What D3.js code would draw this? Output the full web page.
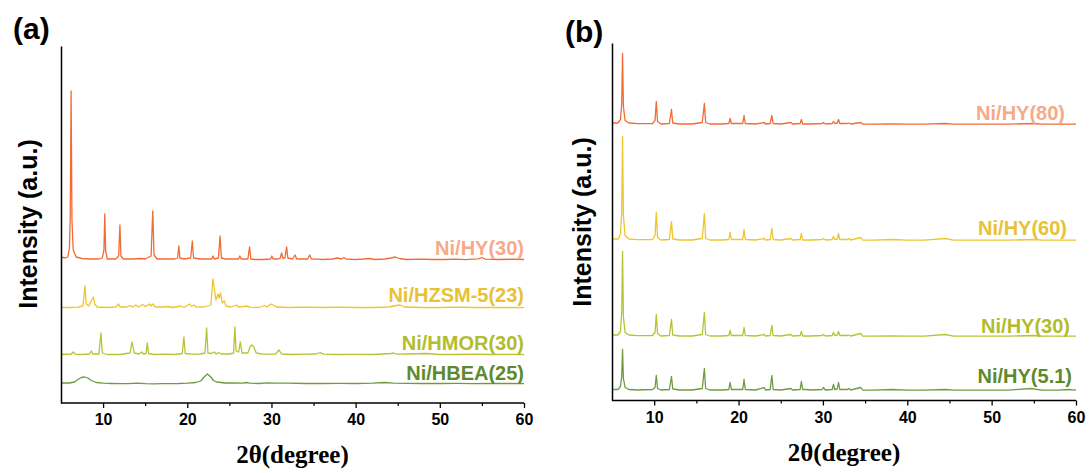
<!DOCTYPE html>
<html><head><meta charset="utf-8">
<script src="https://cdn.jsdelivr.net/npm/d3@7"></script>
<style>
body{margin:0;background:#fff}
text{font-family:"Liberation Sans",Arial,sans-serif}
</style>
</head><body>
<svg id="c" width="1091" height="473"></svg>
<script>
// ---------- data ----------
const majorTicks = [10, 20, 30, 40, 50, 60];
const minorTicks = [15, 25, 35, 45, 55];
const xDomain = [5, 60];

const namesA = ["Ni/HY(30)", "Ni/HZSM-5(23)", "Ni/HMOR(30)", "Ni/HBEA(25)"];
const offsetsA = [143, 95, 48, 19];   // vertical stacking (a.u.)
const namesB = ["Ni/HY(80)", "Ni/HY(60)", "Ni/HY(30)", "Ni/HY(5.1)"];
const offsetsB = [276, 160, 64, 10];

const hy30a = [[5,3],[5.5,2],[5.8,3],[6.0,12],[6.1,45],[6.2,169],[6.3,40],[6.45,10],[6.8,3],[7.5,1.5],[8.5,1],[9.5,1],[9.9,2],[10.1,10],[10.2,46],[10.3,9],[10.5,1],[11.5,1],[11.85,4],[12.0,35],[12.12,4],[12.4,1],[13.5,1],[14.5,1.5],[15.0,1],[15.7,4],[15.9,49],[16.05,5],[16.4,1],[17.5,1],[18.5,1],[18.85,2],[19.0,14],[19.12,2],[19.6,1],[20.4,2],[20.6,19],[20.75,2],[21.5,1],[22.5,1],[22.9,1],[23.05,4],[23.2,1],[23.7,2],[23.9,24],[24.05,2],[24.5,1],[25.5,1],[26.1,1],[26.25,4],[26.4,1],[27.2,1],[27.4,13],[27.55,1],[28,0.5],[29,0.5],[29.9,1],[30.05,4],[30.2,1],[30.8,1],[31.05,2],[31.2,7],[31.35,2],[31.6,2],[31.8,13],[31.95,2],[32.5,1],[32.8,5],[33.0,1],[33.5,1],[34.3,1],[34.55,5],[34.75,1],[35.5,0.8],[36,0.5],[37.3,1],[37.8,2],[38.3,1],[38.6,2.5],[38.9,0.8],[40,0.5],[41,1],[41.6,1.5],[42.3,0.5],[43.5,1],[44.2,2],[44.7,3],[45.2,1.5],[46,0.5],[48,0.8],[49,0.5],[50.5,0.5],[52,0.8],[53,0.4],[54.6,1.2],[55,2.5],[55.4,0.8],[57,0.5],[58.5,0.8],[60,0.5]];

const hzsm5a = [[5,0.5],[6,0.5],[7,0.8],[7.6,2],[7.85,22],[8.0,4],[8.3,2],[8.7,9],[8.85,11],[9.0,4],[9.3,1],[10.5,0.5],[11.5,1],[11.85,4],[12.0,1],[12.8,1],[13.2,2.5],[13.5,1],[13.9,3],[14.2,1],[14.7,3.5],[15.0,1.5],[15.5,4],[15.7,2],[15.9,4],[16.2,1],[17.2,1],[17.7,1.5],[18.3,0.5],[19.2,2],[19.6,0.5],[20.3,4],[20.5,1.5],[20.8,3],[21.1,0.8],[22.0,1],[22.8,3],[23.05,29],[23.2,20],[23.4,8],[23.65,14],[23.8,10],[23.95,15],[24.15,5],[24.4,7],[24.6,2],[25.2,1],[25.85,3],[26.1,1],[26.7,1.5],[27.0,2],[27.5,0.8],[28.5,0.5],[29.2,2.5],[29.5,1],[29.9,4],[30.2,3],[30.6,1],[32,0.5],[34,0.8],[36,0.5],[38,0.8],[40,0.5],[42,0.5],[44,1],[44.8,2.5],[45.3,3],[45.8,1],[48,0.5],[50,0.5],[52,0.8],[54,0.5],[56,0.5],[58,0.5],[60,0.4]];

const hmora = [[5,0.5],[6.2,1],[6.45,3],[6.7,0.8],[7.5,0.5],[8.4,1],[8.6,4],[8.8,1],[9.5,1],[9.75,22],[9.9,2],[10.5,0.5],[12,0.5],[13.2,2],[13.45,13],[13.7,2],[14.3,1],[14.6,3],[14.8,1],[15.1,1.5],[15.25,12],[15.4,1.5],[16,0.5],[17.5,0.8],[18.5,0.5],[19.4,1.5],[19.6,18],[19.75,1.5],[20.5,0.8],[21.5,1],[22.1,2],[22.3,27],[22.45,2],[22.9,1.5],[23.2,3],[23.45,1],[23.7,2.5],[24.0,1],[25.0,1],[25.5,2],[25.65,28],[25.8,4],[26.1,3],[26.3,13],[26.5,2],[27.2,2],[27.5,9],[27.65,10],[27.9,8],[28.2,2],[29,0.8],[30.5,1],[30.9,5],[31.2,1],[32.5,0.5],[34,0.8],[35.3,1],[35.8,2.5],[36.2,0.8],[38,0.5],[40,0.6],[42,0.5],[44.2,1.5],[44.5,2],[44.9,0.8],[46,1],[48.5,1.5],[50,0.5],[52,0.5],[54,0.8],[56,0.5],[58,0.6],[60,0.5]];

const hbeaa = [[5,1],[6,1],[6.6,2],[7.0,4.5],[7.4,6.5],[7.8,7],[8.2,6],[8.6,3.5],[9.2,1.5],[10,0.8],[11,0.5],[12,0.3],[13,0.3],[14,0.8],[15,0.3],[16,0.2],[17,0.3],[18,0.4],[19,0.5],[20,0.8],[21,1.5],[21.6,3],[22.0,7],[22.4,10],[22.8,7],[23.1,3.5],[23.5,2],[24.5,1],[25.5,1],[26.5,0.8],[27.0,1.5],[27.4,0.8],[28.5,0.5],[29.5,1.2],[30.5,0.8],[32,0.8],[34,0.5],[36,0.5],[38,0.6],[40,0.5],[42,0.8],[43.4,1.5],[44.5,0.8],[46,0.6],[48,0.5],[50,0.5],[52,0.6],[54,0.4],[56,0.5],[58,0.5],[60,0.4]];

const hy80b = [[5,1.5],[5.7,1.5],[6.0,5],[6.15,20],[6.25,71],[6.35,18],[6.55,4],[7.0,1.5],[8,0.8],[9.8,1],[10.1,4],[10.25,23],[10.4,3],[10.8,0.5],[11.8,1],[12.05,15],[12.2,1.5],[13,0.5],[14.5,0.5],[15.7,2],[15.95,21],[16.1,2],[16.6,0.5],[18,0.5],[18.85,1],[19.0,6],[19.15,1],[20.5,1],[20.65,9],[20.8,1],[22,0.5],[23.05,2],[23.2,0.5],[23.75,1],[23.95,9],[24.1,1],[25,0.5],[26.2,2],[26.4,0.5],[27.3,1],[27.45,5],[27.6,0.5],[28.5,0.5],[29.9,1],[30.05,2],[30.3,0.5],[31.1,1],[31.25,3],[31.4,1],[31.7,1.5],[31.85,5],[32.0,1],[32.9,1],[33.1,1.5],[33.3,0.5],[34.5,2],[34.7,0.5],[36,0.3],[38,0.5],[40,0.3],[42,0.3],[44.5,1],[45.5,0.4],[48,0.3],[50,0.3],[52,0.3],[55,1],[56,0.3],[58,0.3],[60,0.3]];

const hy60b = [[5,1.5],[5.7,1.5],[6.0,6],[6.15,28],[6.25,104],[6.35,25],[6.55,5],[7.0,1.5],[8,0.8],[9.8,1],[10.1,5],[10.25,28],[10.4,3],[10.8,0.5],[11.8,1],[12.05,19],[12.2,1.5],[13,0.5],[14.5,0.5],[15.7,2],[15.95,27],[16.1,2],[16.6,0.5],[18,0.5],[18.85,1],[19.0,8],[19.15,1],[20.5,1],[20.65,11],[20.8,1],[22,0.5],[23.05,2],[23.2,0.5],[23.75,1],[23.95,12],[24.1,1],[25,0.5],[26.2,2],[26.4,0.5],[27.3,1],[27.45,7],[27.6,0.5],[28.5,0.5],[29.9,1],[30.05,2],[30.3,0.5],[31.1,1],[31.25,4],[31.4,1],[31.7,1.5],[31.85,7],[32.0,1],[32.9,1],[33.1,2],[33.3,0.5],[34.5,3],[34.7,0.5],[36,0.3],[38.2,1],[40,0.3],[42,0.3],[44.5,2],[45.5,0.4],[48,0.3],[50,0.3],[52,0.3],[55,1],[56,0.3],[58,0.3],[60,0.3]];

const hy30b = [[5,1.5],[5.7,1.5],[6.0,5],[6.15,24],[6.25,85],[6.35,20],[6.55,4],[7.0,1.5],[8,0.8],[9.8,1],[10.1,4],[10.25,22],[10.4,3],[10.8,0.5],[11.8,1],[12.05,17],[12.2,1.5],[13,0.5],[14.5,0.5],[15.7,2],[15.95,24],[16.1,2],[16.6,0.5],[18,0.5],[18.85,1],[19.0,6],[19.15,1],[20.5,1],[20.65,9],[20.8,1],[22,0.5],[23.05,2],[23.2,0.5],[23.75,1],[23.95,11],[24.1,1],[25,0.5],[26.2,2],[26.4,0.5],[27.3,1],[27.45,5],[27.6,0.5],[28.5,0.5],[29.9,1],[30.05,2],[30.3,0.5],[31.1,1],[31.25,4],[31.4,1],[31.7,1.5],[31.85,5],[32.0,1],[32.9,1],[33.1,1.5],[33.3,0.5],[34.5,3],[34.7,0.5],[36,0.3],[38,0.5],[40,0.3],[42,0.3],[44.5,2],[45.5,0.4],[48,0.3],[50,0.3],[52,0.3],[55,1],[56,0.3],[58,0.3],[60,0.3]];

const hy51b = [[5,1],[5.7,1],[6.0,4],[6.15,14],[6.25,41],[6.35,12],[6.55,3],[7.0,1],[8,0.5],[9.8,1],[10.1,3],[10.25,15],[10.4,2],[10.8,0.5],[11.8,1],[12.05,14],[12.2,1.5],[13,0.5],[14.5,0.5],[15.7,2],[15.95,22],[16.1,2],[16.6,0.5],[18,0.5],[18.85,1],[19.0,8],[19.15,1],[20.5,1],[20.65,11],[20.8,1],[22,0.5],[23.05,3],[23.2,0.5],[23.75,1],[23.95,15],[24.1,1],[25,0.5],[26.2,2],[26.4,0.5],[27.3,1],[27.45,9],[27.6,1],[28,1],[28.5,0.5],[29.9,1],[30.05,3],[30.3,0.5],[31.1,1],[31.25,6],[31.4,1],[31.7,1.5],[31.85,8],[32.0,1],[32.9,1],[33.1,2],[33.3,0.5],[34.5,3],[34.7,0.5],[36,0.3],[38.2,1],[40,0.3],[42,0.3],[44.5,1],[45.5,0.4],[48,0.3],[50,0.3],[52,0.3],[54.6,2],[56,0.3],[58,0.3],[59,1],[60,0.3]];

const seriesA = [hy30a, hzsm5a, hmora, hbeaa];
const seriesB = [hy80b, hy60b, hy30b, hy51b];

const lineColors  = ["#F26B35", "#EDC52F", "#B8C333", "#6E9B3F"];
const labelColors = ["#F6AA8A", "#E8C234", "#B3BC2E", "#5E8A2E"];

// ---------- drawing ----------
const svg = d3.select("#c");
const SANS = '"Liberation Sans",Arial,sans-serif';
const SERIF = '"Liberation Serif","Times New Roman",serif';

function panel(cfg) {
  const x = d3.scaleLinear().domain(xDomain).range([cfg.x0, cfg.x1]);
  const y = d3.scaleLinear().domain([0, cfg.yMax]).range([cfg.yBottom, cfg.yTop]);
  const g = svg.append("g");

  cfg.series.forEach((s, i) => {
    const off = cfg.offsets[i];
    const line = d3.line().x(d => x(d[0])).y(d => y(d[1] + off));
    g.append("path").datum(s).attr("d", line)
      .attr("fill", "none").attr("stroke", lineColors[i])
      .attr("stroke-width", 1.3).attr("stroke-linejoin", "round");
    g.append("text")
      .attr("x", x(60) - cfg.labelInset[i]).attr("y", y(off) - cfg.labelGap[i])
      .attr("text-anchor", "end").style("font-weight", "bold")
      .style("font-size", "20px").attr("fill", labelColors[i])
      .text(cfg.names[i]);
  });

  const ax = g.append("g").attr("transform", `translate(0,${cfg.yBottom})`)
    .call(d3.axisBottom(x).tickValues(majorTicks).tickSize(5).tickPadding(6).tickSizeOuter(0));
  ax.select(".domain").attr("stroke", "#000").attr("stroke-width", 1.5)
    .attr("d", `M${cfg.x0},0H${cfg.x1}`);
  ax.selectAll(".tick line").attr("stroke", "#000").attr("stroke-width", 1.3);
  ax.selectAll(".tick text").style("font-size", "16px").style("font-weight", "bold")
    .attr("fill", "#000").style("font-family", SANS);
  const am = g.append("g").attr("transform", `translate(0,${cfg.yBottom})`)
    .call(d3.axisBottom(x).tickValues(minorTicks).tickSize(3).tickFormat(""));
  am.select(".domain").remove();
  am.selectAll(".tick line").attr("stroke", "#000").attr("stroke-width", 1.2);

  const ay = g.append("g").attr("transform", `translate(${cfg.x0},0)`)
    .call(d3.axisLeft(y).tickValues([]).tickSizeOuter(0));
  ay.select(".domain").attr("stroke", "#000").attr("stroke-width", 1.5);

  g.append("text").attr("transform", `translate(${cfg.yTitleX},${cfg.yTitleC}) rotate(-90)`)
    .attr("text-anchor", "middle").style("font-weight", "bold").style("font-size", "25px")
    .text("Intensity (a.u.)");
  g.append("text").attr("x", (cfg.x0 + cfg.x1) / 2).attr("y", cfg.xTitleY)
    .attr("text-anchor", "middle").style("font-weight", "bold").style("font-size", "25px")
    .style("font-family", SERIF)
    .text("2θ(degree)");
  g.append("text").attr("x", cfg.tagX).attr("y", cfg.tagY)
    .style("font-weight", "bold").style("font-size", "30px").text(cfg.tag);
}

panel({
  x0: 61, x1: 524, yTop: 46, yBottom: 403, yMax: 357,
  series: seriesA, offsets: offsetsA, names: namesA,
  labelInset: [0, 0, 0, 0], labelGap: [5, 6, 5, 4],
  yTitleX: 37, yTitleC: 224, xTitleY: 463, tag: "(a)", tagX: 13, tagY: 39
});
panel({
  x0: 612, x1: 1076, yTop: 43, yBottom: 400.5, yMax: 357.5,
  series: seriesB, offsets: offsetsB, names: namesB,
  labelInset: [11, 9, 6, 4], labelGap: [5, 6, 4, 8],
  yTitleX: 591, yTitleC: 222, xTitleY: 461, tag: "(b)", tagX: 565, tagY: 42
});
</script>
</body></html>
